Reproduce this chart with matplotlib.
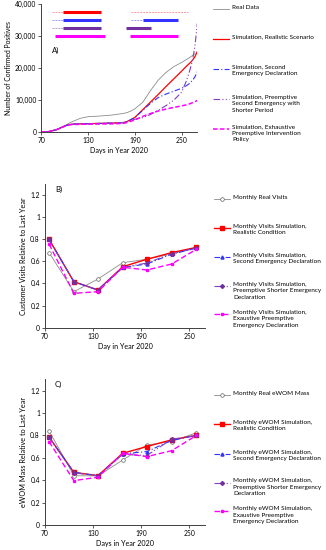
import numpy as np
import matplotlib
matplotlib.use("Agg")
import matplotlib.pyplot as plt
from matplotlib.lines import Line2D
from matplotlib.ticker import FuncFormatter

plt.rcParams['font.family'] = ['Lato', 'DejaVu Sans']

# ---- panel A: cumulative confirmed positives ----
days_a = [70, 80, 90, 100, 105, 110, 120, 130, 145, 160, 175, 180, 185, 190,
          200, 210, 220, 230, 240, 250, 256, 260, 264, 267, 270]
real_cases = [0, 200, 800, 2000, 2700, 3300, 4300, 4800, 5000, 5300, 5800, 6100, 6600, 7300,
              9300, 13000, 16300, 18700, 20500, 21800, 22700, 23300, 24000, 24600, np.nan]
sim_realistic = [0, 150, 800, 1900, 2300, 2450, 2550, 2600, 2700, 2800, 2950, 3300, 3900, 4600,
                 7000, 9400, 11800, 14300, 16700, 19100, 20600, 21500, 22500, 23600, 25200]
sim_second = [0, 150, 800, 1900, 2300, 2450, 2550, 2600, 2700, 2800, 2950, 3300, 3900, 4500,
              6800, 9000, 10800, 11900, 12800, 13700, 14500, 15200, 16200, 17300, 18900]
sim_preemptive = [0, 150, 800, 1900, 2300, 2450, 2550, 2600, 2700, 2800, 2950, 3300, 3700, 4000,
                  4500, 5500, 6800, 8300, 10000, 12500, 16000, 19000, 22600, 27000, 34000]
sim_exhaustive = [0, 150, 800, 1800, 2200, 2350, 2400, 2450, 2500, 2550, 2700, 3000, 3400, 3800,
                  4900, 5800, 6600, 7200, 7700, 8200, 8500, 8800, 9200, 9500, 9900]

# intervention periods (start, end, level, thick?)
periods_red = [(84, 97, 37500, False), (97, 146, 37500, True), (185, 258, 37500, False)]
periods_blue = [(84, 97, 35000, False), (97, 146, 35000, True), (185, 200, 35000, False), (200, 245, 35000, True)]
periods_purple = [(84, 97, 32500, False), (97, 146, 32500, True), (178, 210, 32500, True)]
periods_magenta = [(87, 151, 30000, True), (184, 245, 30000, True)]

# ---- panels B and C: monthly values ----
month_days = [75, 106, 136, 167, 197, 228, 259]
visits_real = [0.68, 0.326, 0.44, 0.588, 0.619, 0.667, 0.727]
visits_realistic = [0.80, 0.416, 0.341, 0.552, 0.619, 0.679, 0.727]
visits_second = [0.80, 0.416, 0.341, 0.545, 0.576, 0.665, 0.72]
visits_preemptive = [0.80, 0.416, 0.341, 0.545, 0.585, 0.67, 0.72]
visits_exhaustive = [0.757, 0.311, 0.326, 0.547, 0.522, 0.576, 0.71]

ewom_real = [0.842, 0.44, 0.4375, 0.58, 0.714, 0.744, 0.824]
ewom_realistic = [0.785, 0.47, 0.44, 0.64, 0.70, 0.76, 0.80]
ewom_second = [0.785, 0.47, 0.44, 0.635, 0.655, 0.755, 0.80]
ewom_preemptive = [0.785, 0.465, 0.44, 0.63, 0.62, 0.765, 0.80]
ewom_exhaustive = [0.744, 0.396, 0.426, 0.64, 0.61, 0.663, 0.80]

W, H = 326, 550
fig = plt.figure(figsize=(3.26, 5.5), dpi=100)

FS = 4.9
FS_LEG = 4.55
grey = '#8c8c8c'
red = '#ff0000'
blue = '#3333ff'
purple = '#7030a0'
magenta = '#ff00ff'


def style_axes(ax):
    for s in ['top', 'right']:
        ax.spines[s].set_visible(False)
    for s in ['left', 'bottom']:
        ax.spines[s].set_linewidth(0.7)
        ax.spines[s].set_color('#404040')
    ax.tick_params(direction='out', length=2.2, width=0.6, labelsize=FS, pad=1.5, color='#404040')
    ax.set_xlim(70, 270)
    ax.set_xticks([70, 130, 190, 250])


def legend_entry(x, y, label, **kw):
    fig.add_artist(Line2D([x / W, (x + 8) / W, (x + 16) / W], [1 - y / H] * 3,
                          transform=fig.transFigure, markevery=[1], **kw))
    fig.text((x + 19) / W, 1 - (y - 4.3) / H, label, fontsize=FS_LEG, va='top', ha='left', linespacing=1.38)


# ---------- A ----------
axA = fig.add_axes([41.5 / W, 1 - 132 / H, (197.3 - 41.5) / W, (132 - 4.3) / H])
style_axes(axA)
axA.set_ylim(0, 40000)
axA.set_yticks([0, 10000, 20000, 30000, 40000])
axA.yaxis.set_major_formatter(FuncFormatter(lambda v, p: f"{int(v):,}"))

for periods, col, thin_col in [(periods_red, red, '#ff9999'), (periods_blue, blue, '#9999ff'),
                               (periods_purple, purple, '#b899d0'), (periods_magenta, magenta, '#ff99ff')]:
    for s, e, lvl, thick in periods:
        if thick:
            axA.plot([s, e], [lvl, lvl], color=col, lw=2.2, solid_capstyle='butt')
        else:
            axA.plot([s, e], [lvl, lvl], color=thin_col, lw=0.7, ls=(0, (2, 1)))

axA.plot(days_a, real_cases, color=grey, lw=0.6)
axA.plot(days_a, sim_realistic, color=red, lw=0.9)
axA.plot(days_a, sim_second, color=blue, lw=0.8, ls=(0, (5, 2, 1, 2)))
axA.plot(days_a, sim_preemptive, color='#8040c0', lw=0.8, ls=(0, (6, 2, 1, 2, 1, 2)))
axA.plot(days_a, sim_exhaustive, color=magenta, lw=1.1, ls=(0, (3, 1.5)))
axA.text(84, 25600, "A)", fontsize=5.6, va='center')
axA.set_xlabel("Days in Year 2020", fontsize=FS + 0.2, labelpad=2)
axA.set_ylabel("Number of Confirmed Positives", fontsize=FS, labelpad=2)

legend_entry(213, 9, "Real Data", color=grey, lw=0.6)
legend_entry(213, 39, "Simulation, Realistic Scenario", color=red, lw=0.9)
legend_entry(213, 69, "Simulation, Second\nEmergency Declaration", color=blue, lw=0.8, ls=(0, (5, 2, 1, 2)))
legend_entry(213, 99, "Simulation, Preemptive\nSecond Emergency with\nShorter Period", color='#8040c0', lw=0.8,
             ls=(0, (6, 2, 1, 2, 1, 2)))
legend_entry(213, 128.5, "Simulation, Exhaustive\nPreemptive Intervention\nPolicy", color=magenta, lw=1.1,
             ls=(0, (3, 1.5)))


# ---------- B & C ----------
def monthly_panel(rect, series, ylabel, xlabel, tag, leg_y, leg_labels):
    ax = fig.add_axes(rect)
    style_axes(ax)
    ax.set_ylim(0, 1.3)
    ax.set_yticks([0, 0.2, 0.4, 0.6, 0.8, 1.0, 1.2])
    ax.yaxis.set_major_formatter(FuncFormatter(lambda v, p: f"{v:g}"))
    styles = [
        dict(color=grey, lw=0.6, marker='o', ms=2.6, mfc='white', mec='#606060', mew=0.5),
        dict(color=red, lw=1.0, marker='s', ms=2.2, mfc=red, mec=red),
        dict(color=blue, lw=0.8, ls=(0, (5, 2, 1, 2)), marker='^', ms=2.2, mfc=blue, mec=blue),
        dict(color='#8040c0', lw=0.8, ls=(0, (6, 2, 1, 2, 1, 2)), marker='D', ms=2.0, mfc=purple, mec=purple),
        dict(color=magenta, lw=1.0, ls=(0, (4, 2)), marker='s', ms=2.0, mfc=magenta, mec=magenta),
    ]
    for vals, st in zip(series, styles):
        ax.plot(month_days, vals, **st)
    ax.text(82.5, 1.255, tag, fontsize=5.6, va='center')
    ax.set_xlabel(xlabel, fontsize=FS + 0.2, labelpad=2)
    ax.set_ylabel(ylabel, fontsize=FS + 0.3, labelpad=2)
    for yy, lab, st in zip(leg_y, leg_labels, styles):
        legend_entry(214, yy, lab, **st)
    return ax


monthly_panel([45 / W, 1 - 327.7 / H, (205.3 - 45) / W, (327.7 - 184) / H],
              [visits_real, visits_realistic, visits_second, visits_preemptive, visits_exhaustive],
              "Customer Visits Relative to Last Year", "Day in Year 2020", "B)",
              [199, 228, 257, 286, 314],
              ["Monthly Real Visits",
               "Monthly Visits Simulation,\nRealistic Condition",
               "Monthly Visits Simulation,\nSecond Emergency Declaration",
               "Monthly Visits Simulation,\nPreemptive Shorter Emergency\nDeclaration",
               "Monthly Visits Simulation,\nExaustive Preemptive\nEmergency Declaration"])

monthly_panel([45 / W, 1 - 525 / H, (205.3 - 45) / W, (525 - 379.3) / H],
              [ewom_real, ewom_realistic, ewom_second, ewom_preemptive, ewom_exhaustive],
              "eWOM Mass Relative to Last Year", "Days in Year 2020", "C)",
              [395, 424, 454, 482.5, 510.7],
              ["Monthly Real eWOM Mass",
               "Monthly eWOM Simulation,\nRealistic Condition",
               "Monthly eWOM Simulation,\nSecond Emergency Declaration",
               "Monthly eWOM Simulation,\nPreemptive Shorter Emergency\nDeclaration",
               "Monthly eWOM Simulation,\nExaustive Preemptive\nEmergency Declaration"])

fig.savefig("out.png", dpi=100)
